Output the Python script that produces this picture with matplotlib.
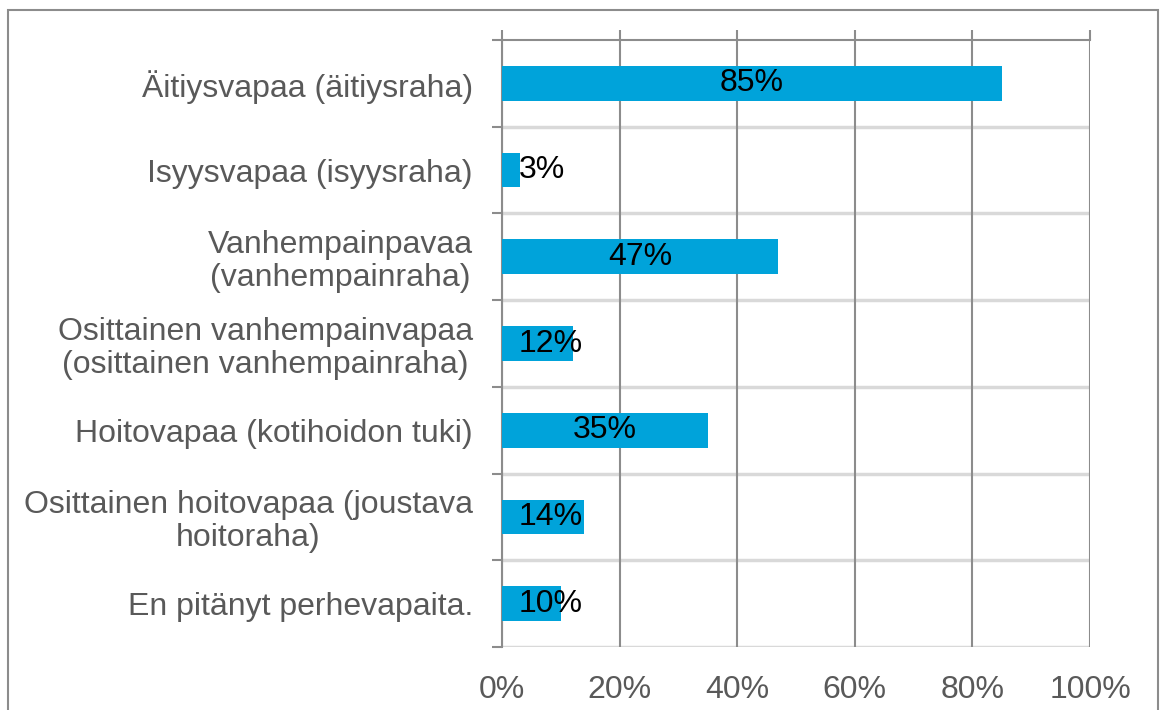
import matplotlib
matplotlib.use("Agg")
import matplotlib.pyplot as plt
from matplotlib.patches import Rectangle
from matplotlib.ticker import FixedLocator, PercentFormatter

plt.rcParams["font.family"] = ["Liberation Sans", "DejaVu Sans"]

categories = [
    "Äitiysvapaa (äitiysraha)",
    "Isyysvapaa (isyysraha)",
    "Vanhempainpavaa\n(vanhempainraha)",
    "Osittainen vanhempainvapaa\n(osittainen vanhempainraha)",
    "Hoitovapaa (kotihoidon tuki)",
    "Osittainen hoitovapaa (joustava\nhoitoraha)",
    "En pitänyt perhevapaita.",
]
values = [85, 3, 47, 12, 35, 14, 10]
x_ticks = [0, 20, 40, 60, 80, 100]

BAR = "#00A3DA"
GRID = "#8c8c8c"
SEP = "#d9d9d9"
TXT = "#595959"
FS = 23

fig = plt.figure(figsize=(11.6, 7.1), dpi=100)
ax = fig.add_axes([502 / 1160, 1 - 647 / 710, 588 / 1160, 607 / 710])

n = len(categories)
ypos = list(range(n))
ax.barh(ypos, values, height=0.4, color=BAR, zorder=3)
ax.set_ylim(n - 0.5, -0.5)
ax.set_xlim(0, 100)

# value axis: line and ticks on top, labels at the bottom
ax.xaxis.set_major_locator(FixedLocator(x_ticks))
ax.xaxis.set_major_formatter(PercentFormatter(decimals=0))
ax.tick_params(axis="x", top=True, bottom=False, labeltop=False, labelbottom=True,
               direction="out", length=7, width=1.5, color=GRID,
               labelsize=FS, labelcolor=TXT, pad=13)
ax.grid(axis="x", color=GRID, lw=1.5, zorder=1)

# category axis: ticks at the band boundaries
ax.yaxis.set_major_locator(FixedLocator(ypos))
ax.set_yticklabels(categories, fontsize=FS, color=TXT, multialignment="center",
                   linespacing=1.12)
ax.tick_params(axis="y", which="major", length=0, pad=21)
ax.yaxis.set_minor_locator(FixedLocator([i - 0.5 for i in range(n + 1)]))
ax.tick_params(axis="y", which="minor", direction="out", length=7, width=1.5, color=GRID)

# light separators between categories
for i in range(1, n + 1):
    ax.axhline(i - 0.5, color=SEP, lw=2.5, zorder=0.5)

for side in ("right", "bottom"):
    ax.spines[side].set_visible(False)
for side in ("left", "top"):
    ax.spines[side].set_color(GRID)
    ax.spines[side].set_linewidth(1.5)
ax.spines["top"].set_zorder(4)

# value labels
for y, v in zip(ypos, values):
    label = f"{v}%"
    if v < 20:
        ax.text(2.9, y, label, ha="left", va="center", fontsize=FS, color="black", zorder=5)
    else:
        ax.text(v / 2, y, label, ha="center", va="center", fontsize=FS, color="black", zorder=5)

# outer frame
fig.patches.append(Rectangle((8 / 1160, -0.1), 1150 / 1160, 1.1 - 10 / 710,
                             transform=fig.transFigure, fill=False,
                             edgecolor=GRID, lw=1.5))

fig.savefig("out.png", dpi=100)
